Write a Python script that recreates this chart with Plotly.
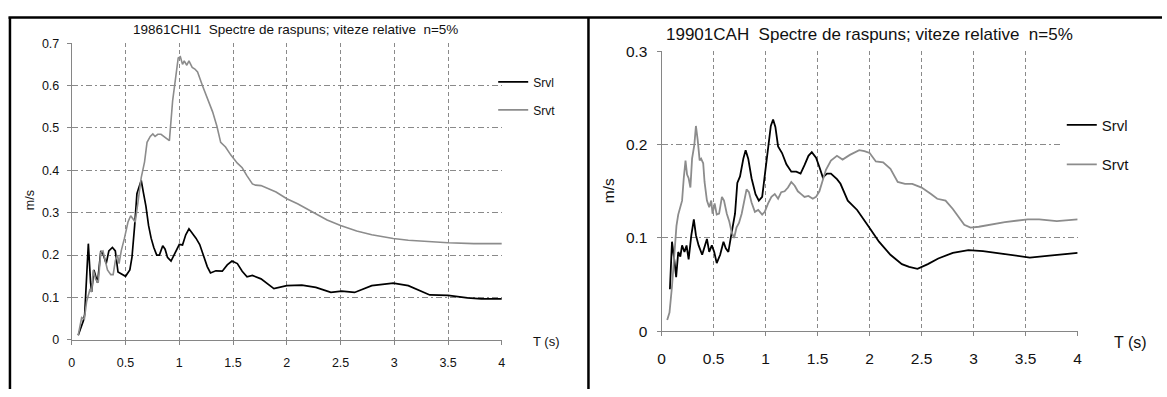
import plotly.graph_objects as go

W, H = 1167, 397

# ---------------- data ----------------
# Chart 1: 19861CHI1
t1_srvl = [0.06, 0.108, 0.12, 0.154, 0.175, 0.185, 0.206, 0.225, 0.24, 0.27,
           0.29, 0.32, 0.345, 0.378, 0.405, 0.43, 0.446, 0.50, 0.54, 0.56,
           0.585, 0.606, 0.625, 0.646, 0.668, 0.69, 0.714, 0.738, 0.763, 0.79,
           0.815, 0.846, 0.868, 0.89, 0.923, 0.96, 1.0, 1.03, 1.06, 1.09,
           1.12, 1.155, 1.19, 1.23, 1.26, 1.29, 1.34, 1.40, 1.446, 1.49,
           1.54, 1.585, 1.63, 1.68, 1.72, 1.76, 1.88, 2.0, 2.14, 2.27,
           2.41, 2.51, 2.63, 2.79, 2.99, 3.13, 3.33, 3.50, 3.68, 3.81,
           4.0]
v1_srvl = [0.011, 0.045, 0.06, 0.227, 0.135, 0.113, 0.165, 0.15, 0.135, 0.21,
           0.203, 0.18, 0.21, 0.218, 0.21, 0.16, 0.158, 0.15, 0.165, 0.195,
           0.27, 0.345, 0.36, 0.376, 0.345, 0.315, 0.27, 0.24, 0.218, 0.2,
           0.2, 0.222, 0.214, 0.195, 0.186, 0.203, 0.225, 0.224, 0.248, 0.262,
           0.252, 0.24, 0.225, 0.195, 0.173, 0.158, 0.163, 0.162, 0.177, 0.186,
           0.18, 0.162, 0.149, 0.152, 0.148, 0.144, 0.121, 0.128, 0.129, 0.124,
           0.112, 0.115, 0.112, 0.128, 0.134, 0.128, 0.106, 0.105, 0.099, 0.097,
           0.097]
t1_srvt = [0.06, 0.092, 0.117, 0.138, 0.17, 0.185, 0.2, 0.222, 0.246, 0.27,
           0.29, 0.332, 0.363, 0.385, 0.406, 0.425, 0.44, 0.46, 0.49, 0.523,
           0.548, 0.57, 0.59, 0.615, 0.646, 0.677, 0.70, 0.73, 0.754, 0.775,
           0.80, 0.83, 0.86, 0.908, 0.938, 0.97, 0.99, 1.01, 1.03, 1.046,
           1.07, 1.09, 1.12, 1.145, 1.17, 1.215, 1.26, 1.31, 1.35, 1.385,
           1.43, 1.48, 1.54, 1.585, 1.63, 1.68, 1.71, 1.76, 1.9, 2.0,
           2.1, 2.24, 2.375, 2.5, 2.65, 2.79, 2.99, 3.13, 3.33, 3.5,
           3.74, 4.0]
v1_srvt = [0.011, 0.053, 0.049, 0.09, 0.12, 0.113, 0.165, 0.143, 0.135, 0.207,
           0.21, 0.165, 0.154, 0.154, 0.188, 0.2, 0.18, 0.21, 0.24, 0.278,
           0.293, 0.286, 0.278, 0.323, 0.383, 0.42, 0.466, 0.48, 0.486, 0.48,
           0.485, 0.485, 0.48, 0.47, 0.564, 0.624, 0.665, 0.668, 0.65, 0.658,
           0.648, 0.658, 0.643, 0.639, 0.632, 0.6, 0.571, 0.538, 0.504, 0.466,
           0.455, 0.436, 0.417, 0.406, 0.387, 0.368, 0.365, 0.364, 0.349, 0.333,
           0.321, 0.302, 0.283, 0.27, 0.257, 0.248, 0.239, 0.235, 0.231, 0.229,
           0.227, 0.227]

# Chart 2: 19901CAH
t2_srvl = [0.08, 0.10, 0.124, 0.14, 0.16, 0.18, 0.197, 0.22, 0.24, 0.26,
           0.286, 0.31, 0.33, 0.356, 0.39, 0.41, 0.436, 0.458, 0.483, 0.506,
           0.53, 0.563, 0.595, 0.617, 0.642, 0.674, 0.706, 0.728, 0.754, 0.786,
           0.808, 0.833, 0.865, 0.903, 0.935, 0.967, 0.992, 1.024, 1.05, 1.072,
           1.094, 1.12, 1.158, 1.2, 1.247, 1.295, 1.336, 1.374, 1.412, 1.444,
           1.485, 1.517, 1.55, 1.59, 1.628, 1.686, 1.72, 1.79, 1.88, 1.985,
           2.09, 2.2, 2.31, 2.38, 2.46, 2.56, 2.66, 2.8, 2.95, 3.09,
           3.27, 3.45, 3.54, 3.73, 4.0]
v2_srvl = [0.045, 0.096, 0.075, 0.058, 0.085, 0.08, 0.092, 0.085, 0.092, 0.077,
           0.103, 0.12, 0.103, 0.092, 0.082, 0.09, 0.099, 0.085, 0.092, 0.085,
           0.073, 0.082, 0.096, 0.089, 0.085, 0.106, 0.126, 0.159, 0.166, 0.185,
           0.194, 0.185, 0.164, 0.147, 0.14, 0.144, 0.168, 0.198, 0.22, 0.227,
           0.219, 0.198, 0.191, 0.179, 0.171, 0.171, 0.169, 0.178, 0.188, 0.192,
           0.186, 0.176, 0.165, 0.169, 0.169, 0.163, 0.158, 0.14, 0.13, 0.113,
           0.096, 0.082, 0.072, 0.069, 0.067, 0.072, 0.078, 0.084, 0.087, 0.086,
           0.083, 0.08, 0.079, 0.081, 0.084]
t2_srvt = [0.054, 0.076, 0.10, 0.118, 0.134, 0.143, 0.16, 0.18, 0.197, 0.213,
           0.23, 0.245, 0.26, 0.277, 0.293, 0.315, 0.33, 0.347, 0.366, 0.38,
           0.4, 0.413, 0.436, 0.458, 0.477, 0.49, 0.51, 0.53, 0.553, 0.58,
           0.6, 0.627, 0.65, 0.674, 0.697, 0.72, 0.744, 0.77, 0.795, 0.817,
           0.84, 0.865, 0.897, 0.929, 0.967, 0.992, 1.024, 1.056, 1.088, 1.12,
           1.15, 1.183, 1.215, 1.247, 1.28, 1.31, 1.342, 1.374, 1.412, 1.453,
           1.485, 1.517, 1.55, 1.58, 1.628, 1.686, 1.74, 1.81, 1.90, 1.95,
           2.0, 2.06, 2.13, 2.2, 2.27, 2.34, 2.41, 2.5, 2.59, 2.65,
           2.73, 2.8, 2.91, 2.97, 3.05, 3.16, 3.3, 3.52, 3.63, 3.8,
           4.0]
v2_srvt = [0.012, 0.02, 0.048, 0.072, 0.099, 0.113, 0.125, 0.135, 0.14, 0.164,
           0.183, 0.168, 0.164, 0.154, 0.185, 0.2, 0.22, 0.205, 0.183, 0.185,
           0.18, 0.16, 0.14, 0.133, 0.14, 0.126, 0.137, 0.125, 0.126, 0.144,
           0.14, 0.126, 0.118, 0.106, 0.1, 0.111, 0.116, 0.126, 0.14, 0.152,
           0.149, 0.138, 0.128, 0.13, 0.125, 0.128, 0.137, 0.144, 0.147, 0.142,
           0.149, 0.15, 0.154, 0.16, 0.156, 0.15, 0.147, 0.144, 0.145, 0.142,
           0.144, 0.15, 0.162, 0.173, 0.183, 0.188, 0.184, 0.189, 0.194, 0.193,
           0.191, 0.182, 0.181, 0.174, 0.16, 0.158, 0.158, 0.154, 0.147, 0.142,
           0.14, 0.131, 0.114, 0.111, 0.112, 0.114, 0.117, 0.12, 0.12, 0.118,
           0.12]

x_ticks = [0, 0.5, 1, 1.5, 2, 2.5, 3, 3.5, 4]
x_tick_text = ["0", "0.5", "1", "1.5", "2", "2.5", "3", "3.5", "4"]
y1_ticks = [0, 0.1, 0.2, 0.3, 0.4, 0.5, 0.6, 0.7]
y1_tick_text = ["0", "0.1", "0.2", "0.3", "0.4", "0.5", "0.6", "0.7"]
y2_ticks = [0, 0.1, 0.2, 0.3]
y2_tick_text = ["0", "0.1", "0.2", "0.3"]

title1 = "19861CHI1  Spectre de raspuns; viteze relative  n=5%"
title2 = "19901CAH  Spectre de raspuns; viteze relative  n=5%"
names = ["Srvl", "Srvt"]

# ---------------- style ----------------
FONT = "Liberation Sans, Arial, sans-serif"
BLACK = "#000000"
GREY = "#8c8c8c"
AX = "#868686"
GRID = "#8a8a8a"
TXT = "#111111"


def px(x):
    return x / W


def py(y):
    return 1 - y / H


fig = go.Figure()
fig.add_trace(go.Scatter(x=t1_srvl, y=v1_srvl, name=names[0], mode="lines",
                         line=dict(color=BLACK, width=1.7), xaxis="x", yaxis="y",
                         legend="legend", legendgroup="a"))
fig.add_trace(go.Scatter(x=t1_srvt, y=v1_srvt, name=names[1], mode="lines",
                         line=dict(color=GREY, width=1.6), xaxis="x", yaxis="y",
                         legend="legend", legendgroup="b"))
fig.add_trace(go.Scatter(x=t2_srvl, y=v2_srvl, name=names[0], mode="lines",
                         line=dict(color=BLACK, width=1.8), xaxis="x2", yaxis="y2",
                         legend="legend2", legendgroup="c"))
fig.add_trace(go.Scatter(x=t2_srvt, y=v2_srvt, name=names[1], mode="lines",
                         line=dict(color=GREY, width=1.8), xaxis="x2", yaxis="y2",
                         legend="legend2", legendgroup="d"))


def xaxis(domain, size, anchor, standoff):
    return dict(domain=domain, range=[0, 4], tickvals=x_ticks, ticktext=x_tick_text,
                showline=True, linecolor=AX, linewidth=1, ticks="outside", ticklen=4,
                tickcolor=AX, showgrid=True, gridcolor=GRID, gridwidth=1,
                griddash="4px,3px", zeroline=False, anchor=anchor,
                ticklabelstandoff=standoff,
                tickfont=dict(family=FONT, size=size, color=TXT))


def yaxis(domain, rng, vals, text, size, anchor, standoff):
    return dict(domain=domain, range=rng, tickvals=vals, ticktext=text,
                showline=True, linecolor=AX, linewidth=1, ticks="outside", ticklen=4,
                tickcolor=AX, showgrid=True, gridcolor=GRID, gridwidth=1,
                griddash="6px,3px,2px,3px", zeroline=False, anchor=anchor,
                ticklabelstandoff=standoff,
                tickfont=dict(family=FONT, size=size, color=TXT))


# plot-area pixel positions
L1 = dict(x0=68.3, x1=501.7, ytop=35.7, ybot=345.7)
L2 = dict(x0=662.7, x1=1082.0, ytop=44.2, ybot=336.7)

fig.update_layout(
    width=W, height=H, autosize=False,
    margin=dict(l=0, r=0, t=0, b=0),
    paper_bgcolor="white", plot_bgcolor="white",
    font=dict(family=FONT, color=TXT),
    xaxis=xaxis([px(L1["x0"]), px(L1["x1"])], 12.5, "y", 7),
    yaxis=yaxis([py(L1["ybot"]), py(L1["ytop"])], [0, 0.7], y1_ticks, y1_tick_text, 12.5, "x", 5),
    xaxis2=xaxis([px(L2["x0"]), px(L2["x1"])], 15.5, "y2", 9),
    yaxis2=yaxis([py(L2["ybot"]), py(L2["ytop"])], [0, 0.3], y2_ticks, y2_tick_text, 15.5, "x2", 6),
    legend=dict(x=px(493), y=py(61), xanchor="left", yanchor="top",
                font=dict(family=FONT, size=12, color=TXT),
                bgcolor="rgba(255,255,255,0)", traceorder="grouped",
                tracegroupgap=9, itemwidth=30),
    legend2=dict(x=px(1066), y=py(104), xanchor="left", yanchor="top",
                 font=dict(family=FONT, size=15, color=TXT),
                 bgcolor="white", traceorder="grouped",
                 tracegroupgap=17, itemwidth=30),
    showlegend=True,
)

annotations = [
    dict(text=title1, x=px(294), y=py(21), xref="paper", yref="paper",
         showarrow=False, font=dict(family=FONT, size=13.5, color=TXT),
         xanchor="center", yanchor="middle"),
    dict(text=title2, x=px(872), y=py(27), xref="paper", yref="paper",
         showarrow=False, font=dict(family=FONT, size=17, color=TXT),
         xanchor="center", yanchor="middle"),
    dict(text="m/s", x=px(27), y=py(200), xref="paper", yref="paper", textangle=-90,
         showarrow=False, font=dict(family=FONT, size=12.5, color=TXT),
         xanchor="center", yanchor="middle"),
    dict(text="m/s", x=px(610), y=py(190), xref="paper", yref="paper", textangle=-90,
         showarrow=False, font=dict(family=FONT, size=15.5, color=TXT),
         xanchor="center", yanchor="middle"),
    dict(text="T (s)", x=px(546), y=py(347), xref="paper", yref="paper",
         showarrow=False, font=dict(family=FONT, size=13, color=TXT),
         xanchor="center", yanchor="middle"),
    dict(text="T (s)", x=px(1135), y=py(348), xref="paper", yref="paper",
         showarrow=False, font=dict(family=FONT, size=16, color=TXT),
         xanchor="center", yanchor="middle"),
]
fig.update_layout(annotations=annotations)

# frame lines of the two panels
shapes = [
    dict(type="line", xref="paper", yref="paper", x0=px(4.5), x1=1, y0=py(9), y1=py(9),
         line=dict(color="black", width=2.5)),
    dict(type="line", xref="paper", yref="paper", x0=px(6), x1=px(6), y0=py(9), y1=0,
         line=dict(color="black", width=2.5)),
    dict(type="line", xref="paper", yref="paper", x0=px(589), x1=px(589), y0=py(9), y1=0,
         line=dict(color="black", width=2.5)),
]
fig.update_layout(shapes=shapes)

fig.write_html("out.html", config={"displayModeBar": False},
               post_script="document.body.style.margin='0';document.body.style.overflow='hidden';")
